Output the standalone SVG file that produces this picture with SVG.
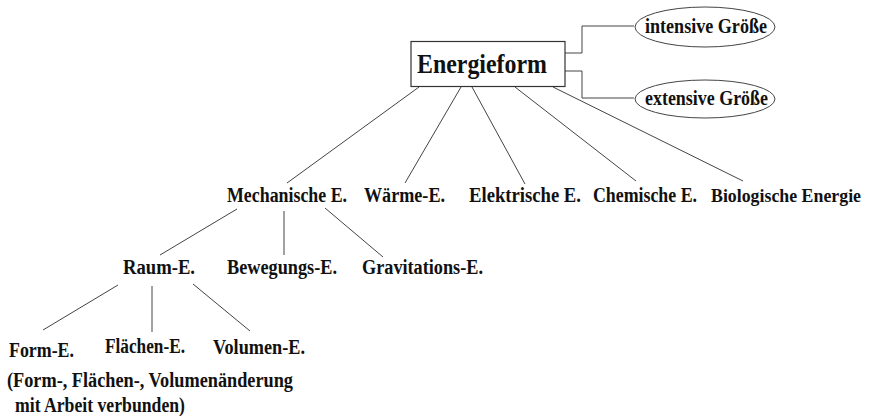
<svg xmlns="http://www.w3.org/2000/svg" width="870" height="416" viewBox="0 0 870 416">
<style>
.t{font-family:'Liberation Serif','DejaVu Serif',serif;font-weight:700;font-size:20px;fill:#111}
.ln{stroke:#444;stroke-width:1;fill:none}
.box{fill:#fff;stroke:#333;stroke-width:1.2}
</style>
<rect width="870" height="416" fill="#fff"/>
<g id="connectors" class="ln">
<polyline points="565,53 582,53 582,26 634,26"/>
<polyline points="565,71 582,71 582,98 634,98"/>
<line x1="419" y1="87" x2="287" y2="183"/>
<line x1="461" y1="87" x2="405" y2="183"/>
<line x1="472" y1="87" x2="525" y2="184"/>
<line x1="515" y1="87" x2="636" y2="181"/>
<line x1="553" y1="87" x2="743" y2="181"/>
<line x1="237" y1="209" x2="160" y2="255"/>
<line x1="284" y1="211" x2="284" y2="255"/>
<line x1="325" y1="208" x2="383" y2="257"/>
<line x1="118" y1="285" x2="43" y2="330"/>
<line x1="152" y1="286" x2="152" y2="332"/>
<line x1="193" y1="284" x2="250" y2="331"/>
</g>
<g id="energieform">
<rect class="box" x="411" y="41.5" width="154" height="45"/>
<text class="t" x="417" y="73" style="font-size:27px" textLength="130" lengthAdjust="spacingAndGlyphs">Energieform</text>
</g>
<g id="intensiv">
<ellipse class="ln" cx="705" cy="27" rx="70" ry="20"/>
<text class="t" x="645" y="33" textLength="122" lengthAdjust="spacingAndGlyphs">intensive Größe</text>
</g>
<g id="extensiv">
<ellipse class="ln" cx="705" cy="99" rx="70" ry="19"/>
<text class="t" x="645" y="105" textLength="123" lengthAdjust="spacingAndGlyphs">extensive Größe</text>
</g>
<g id="mechanisch"><text class="t" x="227" y="202" textLength="120" lengthAdjust="spacingAndGlyphs">Mechanische E.</text></g>
<g id="waerme"><text class="t" x="364" y="202" textLength="81" lengthAdjust="spacingAndGlyphs">Wärme-E.</text></g>
<g id="elektrisch"><text class="t" x="469" y="202" textLength="112" lengthAdjust="spacingAndGlyphs">Elektrische E.</text></g>
<g id="chemisch"><text class="t" x="593" y="202" textLength="104" lengthAdjust="spacingAndGlyphs">Chemische E.</text></g>
<g id="biologisch"><text class="t" x="711" y="202" style="font-size:18.5px" textLength="150" lengthAdjust="spacingAndGlyphs">Biologische Energie</text></g>
<g id="raum"><text class="t" x="123" y="274" textLength="72" lengthAdjust="spacingAndGlyphs">Raum-E.</text></g>
<g id="bewegung"><text class="t" x="227" y="274" textLength="110" lengthAdjust="spacingAndGlyphs">Bewegungs-E.</text></g>
<g id="gravitation"><text class="t" x="362" y="274" textLength="121" lengthAdjust="spacingAndGlyphs">Gravitations-E.</text></g>
<g id="form"><text class="t" x="9" y="357" textLength="65" lengthAdjust="spacingAndGlyphs">Form-E.</text></g>
<g id="flaechen"><text class="t" x="105" y="353" textLength="80" lengthAdjust="spacingAndGlyphs">Flächen-E.</text></g>
<g id="volumen"><text class="t" x="213" y="354" textLength="92" lengthAdjust="spacingAndGlyphs">Volumen-E.</text></g>
<g id="anmerkung">
<text class="t" x="7" y="387" textLength="286" lengthAdjust="spacingAndGlyphs">(Form-, Flächen-, Volumenänderung</text>
<text class="t" x="15" y="412" textLength="170" lengthAdjust="spacingAndGlyphs">mit Arbeit verbunden)</text>
</g>
</svg>
